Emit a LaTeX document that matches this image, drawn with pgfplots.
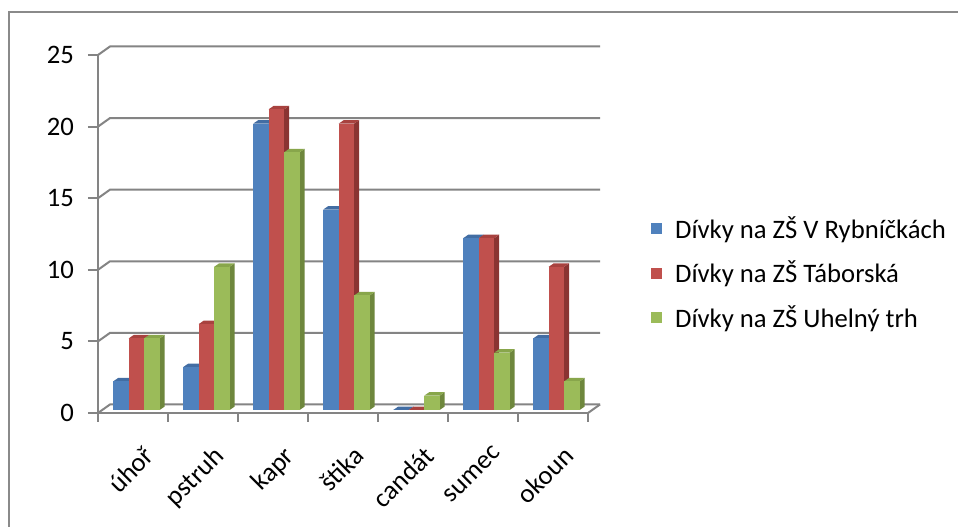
\documentclass[border=0pt]{standalone}
\usepackage{fontspec}
\setmainfont{Carlito}
\usepackage{pgfplots}
\usepackage{pgfplotstable}
\pgfplotsset{compat=1.18}

% Office 2007 palette: front, top and side faces
\definecolor{cA}{HTML}{4F81BD}\definecolor{cAtop}{HTML}{426DA3}\definecolor{cAside}{HTML}{365A86}
\definecolor{cB}{HTML}{C0504D}\definecolor{cBtop}{HTML}{A8423F}\definecolor{cBside}{HTML}{8A3432}
\definecolor{cC}{HTML}{9BBB59}\definecolor{cCtop}{HTML}{88A64B}\definecolor{cCside}{HTML}{6E873D}
\definecolor{gridc}{HTML}{848484}
\definecolor{framec}{HTML}{8A8A8A}

% fish  V_Rybnickach  Taborska  Uhelny_trh
\pgfplotstableread{
i  A   B   C
0  2   5   5
1  3   6   10
2  20  21  18
3  14  20  8
4  0   0   1
5  12  12  4
6  5   10  2
}\fishdata

% a 3D column drawn as a plot mark at the top of its front face;
% #1 mark name, #2 colour prefix, #3 offset of the column inside its group
\newcommand\declarebar[3]{%
  \pgfdeclareplotmark{#1}{%
    \pgfscope
    \pgfmathsetlengthmacro\bl{-\barval*10.74pt}%
    \pgfmathsetlengthmacro\bs{2.6pt-\barval*10.74pt}%
    \pgftransformshift{\pgfpoint{#3+2.6pt}{2.25pt}}%
    % side face
    \pgfpathmoveto{\pgfpoint{5.8pt}{0pt}}%
    \pgfpathlineto{\pgfpoint{9.55pt}{2.6pt}}%
    \pgfpathlineto{\pgfpoint{9.55pt}{\bs}}%
    \pgfpathlineto{\pgfpoint{5.8pt}{\bl}}%
    \pgfpathclose
    \pgfsetfillcolor{#2side}\pgfusepath{fill}%
    % top face
    \pgfpathmoveto{\pgfpoint{-5.8pt}{0pt}}%
    \pgfpathlineto{\pgfpoint{-2.05pt}{2.6pt}}%
    \pgfpathlineto{\pgfpoint{9.55pt}{2.6pt}}%
    \pgfpathlineto{\pgfpoint{5.8pt}{0pt}}%
    \pgfpathclose
    \pgfsetfillcolor{#2top}\pgfusepath{fill}%
    % front face
    \pgfpathrectanglecorners{\pgfpoint{-5.8pt}{\bl}}{\pgfpoint{5.8pt}{0pt}}%
    \pgfsetfillcolor{#2}\pgfusepath{fill}%
    \endpgfscope
  }%
}
\declarebar{barA}{cA}{-11.6pt}
\declarebar{barB}{cB}{0pt}
\declarebar{barC}{cC}{11.6pt}

\begin{document}
\begin{tikzpicture}
\fill[white] (0,0) rectangle (718.5pt,395.25pt);
% chart area frame
\draw[framec, line width=1.3pt] (6.75pt,0) -- (6.75pt,386.25pt) -- (718.5pt,386.25pt);

\begin{axis}[
  at={(73.5pt,85.5pt)}, anchor=south west,
  scale only axis, width=367.5pt, height=268.5pt,
  clip=false,
  xmin=-0.5, xmax=6.5, ymin=0, ymax=25,
  axis lines*=left,
  axis line style={gridc, line width=1.5pt},
  every tick/.style={gridc, line width=1.5pt},
  tick align=outside,
  xtick={0,...,6},
  xticklabels={úhoř, pstruh, kapr, štika, candát, sumec, okoun},
  major x tick style={draw=none},
  minor xtick={-0.5,0.5,...,6.5},
  minor tick length=6.5pt,
  ytick={0,5,...,25},
  major tick length=7.5pt,
  /pgf/number format/assume math mode=true,
  tick label style={font=\fontsize{20}{24}\selectfont},
  yticklabel style={xshift=-7pt},
  xticklabel style={rotate=45, anchor=north east, xshift=-3pt, yshift=-13pt},
  legend style={draw=none, fill=none, at={(1.1286,0.391)}, anchor=west,
    inner sep=0pt, row sep=15.5pt,
    font=\fontsize{20}{24}\selectfont,
    nodes={inner sep=0pt},
    /tikz/every odd column/.append style={column sep=10pt}},
  legend cell align=left,
]
% back wall gridlines with their slanted left ends, and the floor
\pgfplotsinvokeforeach{0,5,...,25}{
  \draw[gridc, line width=1.5pt] (axis cs:-0.5,#1) -- ++(9pt,6.4pt) -- ++(367.5pt,0pt);
}
\draw[gridc, line width=1.5pt] (axis cs:6.5,0) -- ++(9pt,6.4pt);

\addplot[only marks, mark=barA, forget plot,
  visualization depends on={\thisrow{A}\as\barval}] table[x=i, y=A]{\fishdata};
\addplot[only marks, mark=barB, forget plot,
  visualization depends on={\thisrow{B}\as\barval}] table[x=i, y=B]{\fishdata};
\addplot[only marks, mark=barC, forget plot,
  visualization depends on={\thisrow{C}\as\barval}] table[x=i, y=C]{\fishdata};

\addlegendimage{legend image code/.code={\fill[cA] (0pt,-3.75pt) rectangle (7.5pt,3.75pt);}}
\addlegendentry{Dívky na ZŠ V Rybníčkách}
\addlegendimage{legend image code/.code={\fill[cB] (0pt,-3.75pt) rectangle (7.5pt,3.75pt);}}
\addlegendentry{Dívky na ZŠ Táborská}
\addlegendimage{legend image code/.code={\fill[cC] (0pt,-3.75pt) rectangle (7.5pt,3.75pt);}}
\addlegendentry{Dívky na ZŠ Uhelný trh}
\end{axis}
% fix the page to the full chart area
\pgfresetboundingbox
\path (0,0) rectangle (718.5pt,395.25pt);
\end{tikzpicture}
\end{document}
